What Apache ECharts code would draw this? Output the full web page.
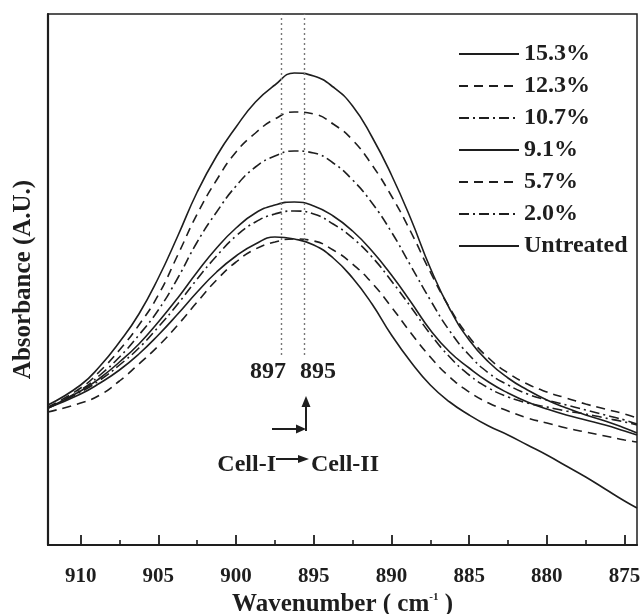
<!DOCTYPE html>
<html>
<head>
<meta charset="utf-8">
<script src="https://cdn.jsdelivr.net/npm/echarts@6/dist/echarts.min.js"></script>
<style>
  html, body { margin: 0; padding: 0; background: #fff; }
  #chart { width: 640px; height: 614px; }
</style>
</head>
<body>
<div id="chart"></div>
<script>
// wavenumber samples (cm-1) shared by all spectra
const wavenumbers = [912.1, 910, 908.75, 907.5, 906.25, 905, 903.75, 902.5, 901.25, 900, 898.75, 897.5, 896.25, 895, 893.75, 892.5,
  891.25, 890, 888.75, 887.5, 886.25, 885, 883.75, 882.5, 881.25, 880, 878.75, 877.5, 876.25, 875, 874.2];

// absorbance, arbitrary units
const abs153 = [1.40, 1.60, 1.79, 2.03, 2.31, 2.67, 3.09, 3.53, 3.89, 4.18, 4.43, 4.60, 4.72, 4.69, 4.58, 4.39,
  4.08, 3.70, 3.26, 2.77, 2.36, 2.05, 1.83, 1.67, 1.55, 1.45, 1.37, 1.30, 1.24, 1.17, 1.12];
const abs123 = [1.38, 1.57, 1.74, 1.95, 2.20, 2.50, 2.90, 3.31, 3.65, 3.93, 4.12, 4.26, 4.33, 4.31, 4.21, 4.05,
  3.80, 3.49, 3.13, 2.73, 2.37, 2.08, 1.87, 1.72, 1.61, 1.53, 1.47, 1.41, 1.36, 1.31, 1.27];
const abs107 = [1.37, 1.55, 1.70, 1.88, 2.10, 2.35, 2.67, 3.03, 3.33, 3.59, 3.78, 3.89, 3.94, 3.92, 3.82, 3.65,
  3.42, 3.13, 2.79, 2.45, 2.14, 1.90, 1.72, 1.60, 1.51, 1.45, 1.40, 1.35, 1.30, 1.25, 1.21];
const abs91 = [1.37, 1.54, 1.67, 1.83, 2.01, 2.23, 2.47, 2.73, 2.97, 3.17, 3.32, 3.40, 3.43, 3.39, 3.29, 3.14,
  2.94, 2.70, 2.43, 2.15, 1.93, 1.77, 1.63, 1.52, 1.43, 1.36, 1.30, 1.25, 1.20, 1.14, 1.10];
const abs57 = [1.33, 1.42, 1.50, 1.64, 1.81, 1.99, 2.20, 2.43, 2.65, 2.83, 2.96, 3.03, 3.06, 3.04, 2.95, 2.81,
  2.62, 2.38, 2.12, 1.88, 1.68, 1.53, 1.42, 1.34, 1.27, 1.22, 1.17, 1.13, 1.09, 1.05, 1.03];
const abs20 = [1.37, 1.53, 1.65, 1.80, 1.97, 2.18, 2.41, 2.66, 2.89, 3.09, 3.23, 3.31, 3.34, 3.31, 3.21, 3.07,
  2.88, 2.64, 2.38, 2.11, 1.88, 1.70, 1.57, 1.48, 1.42, 1.38, 1.34, 1.31, 1.27, 1.23, 1.20];
const absUntreated = [1.37, 1.51, 1.62, 1.75, 1.91, 2.10, 2.31, 2.53, 2.73, 2.89, 3.01, 3.08, 3.06, 3.00, 2.87, 2.67,
  2.41, 2.10, 1.83, 1.60, 1.43, 1.30, 1.19, 1.10, 1.00, 0.90, 0.79, 0.68, 0.56, 0.44, 0.37];

const seriesNames = ['15.3%', '12.3%', '10.7%', '9.1%', '5.7%', '2.0%', 'Untreated'];
const seriesValues = [abs153, abs123, abs107, abs91, abs57, abs20, absUntreated];

const majorTicks = [910, 905, 900, 895, 890, 885, 880, 875];
const minorTicks = [907.5, 902.5, 897.5, 892.5, 887.5, 882.5, 877.5];
const peakLines = [897.1, 895.6];

const FONT = '"Liberation Serif", "Times New Roman", serif';
const INK = '#1e1e1e';

const solid = 'solid';
const dashed = [9, 6];
const dashDot = [10, 4, 2, 4];
const lineTypes = [solid, dashed, dashDot, solid, dashed, dashDot, solid];

const series = seriesNames.map((name, i) => ({
  name,
  type: 'line',
  smooth: 0.5,
  symbol: 'none',
  showSymbol: false,
  data: wavenumbers.map((w, j) => [w, seriesValues[i][j]]),
  lineStyle: { color: INK, width: 1.6, type: lineTypes[i] },
  itemStyle: { color: INK },
  z: 3,
}));

series.push({
  name: 'peaks',
  type: 'line',
  data: [],
  markLine: {
    silent: true,
    symbol: 'none',
    label: { show: false },
    lineStyle: { color: '#777', width: 1.4, type: [2, 3] },
    data: peakLines.map((w) => [{ coord: [w, 1.9] }, { coord: [w, 5.31] }]),
  },
});

const chart = echarts.init(document.getElementById('chart'));

const bold24 = 'bold 24px ' + FONT;

chart.setOption({
  animation: false,
  backgroundColor: '#fff',
  textStyle: { fontFamily: FONT },
  grid: {
    left: 48, right: 3, top: 14, bottom: 69,
    outerBoundsMode: 'none',
    containLabel: false,
    show: true, borderColor: INK, borderWidth: 1.5,
  },
  legend: {
    data: seriesNames,
    orient: 'vertical',
    left: 458,
    top: 42,
    padding: 0,
    itemWidth: 60,
    itemHeight: 14,
    itemGap: 8,
    itemStyle: { opacity: 0 },
    textStyle: { fontFamily: FONT, fontWeight: 'bold', fontSize: 24, color: INK, lineHeight: 24 },
  },
  xAxis: [
    {
      type: 'value',
      inverse: true,
      min: 874.2,
      max: 912.1,
      name: 'Wavenumber ( cm{sup|-1} )',
      nameLocation: 'middle',
      nameGap: 42,
      nameTextStyle: {
        fontFamily: FONT, fontWeight: 'bold', fontSize: 25, color: INK,
        rich: { sup: { fontFamily: FONT, fontSize: 11, fontWeight: 'bold', verticalAlign: 'top', padding: [0, 0, 13, 0] } },
      },
      axisLine: { show: true, lineStyle: { color: INK, width: 2.2 } },
      axisTick: { show: true, inside: true, length: 10, lineStyle: { color: INK, width: 1.8 }, customValues: majorTicks },
      axisLabel: { fontFamily: FONT, fontWeight: 'bold', fontSize: 21, color: INK, margin: 21, customValues: majorTicks },
      splitLine: { show: false },
    },
    {
      type: 'value',
      inverse: true,
      min: 874.2,
      max: 912.1,
      position: 'bottom',
      axisLine: { show: false },
      axisTick: { show: true, inside: true, length: 5, lineStyle: { color: INK, width: 1.6 }, customValues: minorTicks },
      axisLabel: { show: false },
      splitLine: { show: false },
    },
  ],
  yAxis: {
    type: 'value',
    min: 0,
    max: 5.31,
    name: 'Absorbance (A.U.)',
    nameLocation: 'middle',
    nameGap: 12,
    nameTextStyle: { fontFamily: FONT, fontWeight: 'bold', fontSize: 25, color: INK },
    axisLine: { show: true, lineStyle: { color: INK, width: 2.2 } },
    axisTick: { show: false },
    axisLabel: { show: false },
    splitLine: { show: false },
  },
  series,
  graphic: [
    { type: 'text', x: 268, y: 372, style: { text: '897', font: bold24, fill: INK, textAlign: 'center', textVerticalAlign: 'middle' } },
    { type: 'text', x: 318, y: 372, style: { text: '895', font: bold24, fill: INK, textAlign: 'center', textVerticalAlign: 'middle' } },
    { type: 'line', shape: { x1: 272, y1: 429, x2: 299, y2: 429 }, style: { stroke: INK, lineWidth: 2 } },
    { type: 'polygon', shape: { points: [[296, 424.5], [306, 429], [296, 433.5]] }, style: { fill: INK } },
    { type: 'line', shape: { x1: 306, y1: 431, x2: 306, y2: 404 }, style: { stroke: INK, lineWidth: 2 } },
    { type: 'polygon', shape: { points: [[301.5, 407], [306, 396], [310.5, 407]] }, style: { fill: INK } },
    { type: 'text', x: 276, y: 465, style: { text: 'Cell-I', font: bold24, fill: INK, textAlign: 'right', textVerticalAlign: 'middle' } },
    { type: 'line', shape: { x1: 276, y1: 459, x2: 300, y2: 459 }, style: { stroke: INK, lineWidth: 2 } },
    { type: 'polygon', shape: { points: [[298, 455], [309, 459], [298, 463]] }, style: { fill: INK } },
    { type: 'text', x: 311, y: 465, style: { text: 'Cell-II', font: bold24, fill: INK, textAlign: 'left', textVerticalAlign: 'middle' } },
  ],
});

window.addEventListener('resize', () => chart.resize());
</script>
</body>
</html>
